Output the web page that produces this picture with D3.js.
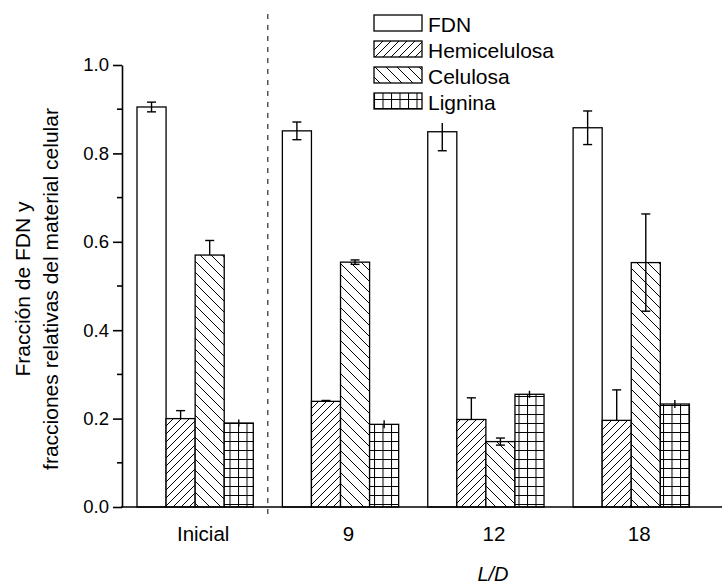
<!DOCTYPE html>
<html>
<head>
<meta charset="utf-8">
<script src="https://cdn.jsdelivr.net/npm/d3@7"></script>
<style>
  body { margin: 0; background: #fff; }
  svg { display: block; font-family: "Liberation Sans", Arial, sans-serif; }
</style>
</head>
<body>
<svg id="chart" width="723" height="586"></svg>
<script>
// categories and series
const groups = ["Inicial", "9", "12", "18"];
const series = ["FDN", "Hemicelulosa", "Celulosa", "Lignina"];

// bar heights (fraction)
const fdn = [0.905, 0.851, 0.849, 0.858];
const hemicelulosa = [0.200, 0.239, 0.198, 0.196];
const celulosa = [0.570, 0.554, 0.148, 0.553];
const lignina = [0.190, 0.187, 0.255, 0.233];

// error bars
const fdnErr = [0.011, 0.020, 0.043, 0.038];
const hemicelulosaErr = [0.018, 0.002, 0.049, 0.069];
const celulosaErr = [0.033, 0.005, 0.008, 0.110];
const ligninaErr = [0.008, 0.009, 0.008, 0.009];

// y ticks
const yTicks = [0.0, 0.2, 0.4, 0.6, 0.8, 1.0];
const yMinorTicks = [0.1, 0.3, 0.5, 0.7, 0.9];

const values = { FDN: fdn, Hemicelulosa: hemicelulosa, Celulosa: celulosa, Lignina: lignina };
const errors = { FDN: fdnErr, Hemicelulosa: hemicelulosaErr, Celulosa: celulosaErr, Lignina: ligninaErr };
// which error bars show their lower half (the rest is hidden behind the bar)
const lowerShown = { FDN: [1, 1, 1, 1], Hemicelulosa: [0, 0, 0, 0], Celulosa: [0, 1, 1, 1], Lignina: [1, 1, 1, 1] };
const capWidth = { FDN: 9, Hemicelulosa: 9, Celulosa: 9, Lignina: 0 };
const fills = { FDN: "#fff", Hemicelulosa: "url(#hatchUp)", Celulosa: "url(#hatchDown)", Lignina: "url(#grid)" };

const svg = d3.select("#chart");

// ---- patterns ----
let defs = svg.append("defs");
let p1 = defs.append("pattern").attr("id", "hatchUp")
  .attr("patternUnits", "userSpaceOnUse").attr("width", 8).attr("height", 8);
p1.append("rect").attr("width", 8).attr("height", 8).attr("fill", "#fff");
p1.append("path").attr("d", "M-2,2 L2,-2 M0,8 L8,0 M6,10 L10,6")
  .attr("stroke", "#000").attr("stroke-width", 1);

let p2 = defs.append("pattern").attr("id", "hatchDown")
  .attr("patternUnits", "userSpaceOnUse").attr("width", 11).attr("height", 11);
p2.append("rect").attr("width", 11).attr("height", 11).attr("fill", "#fff");
p2.append("path").attr("d", "M-2,9 L2,13 M0,0 L11,11 M9,-2 L13,2")
  .attr("stroke", "#000").attr("stroke-width", 1);

let p3 = defs.append("pattern").attr("id", "grid")
  .attr("patternUnits", "userSpaceOnUse").attr("width", 8.5).attr("height", 9);
p3.append("rect").attr("width", 8.5).attr("height", 9).attr("fill", "#fff");
p3.append("path").attr("d", "M0.5,0 V9 M0,0.5 H8.5")
  .attr("stroke", "#000").attr("stroke-width", 1);

// ---- scales ----
let y = d3.scaleLinear().domain([0, 1]).range([507, 65]);

let x0 = d3.scaleBand()
  .domain(groups)
  .range([137, 689.4])
  .paddingInner(0.2)
  .paddingOuter(0);

let x1 = d3.scaleBand()
  .domain(series)
  .range([0, x0.bandwidth()]);

// ---- bars ----
let barData = [];
groups.forEach((g, i) => {
  series.forEach(s => {
    barData.push({ g: g, s: s, v: values[s][i], e: errors[s][i], low: lowerShown[s][i] });
  });
});

let barG = svg.append("g").attr("class", "bars");
barG.selectAll("rect")
  .data(barData)
  .join("rect")
  .attr("x", d => x0(d.g) + x1(d.s))
  .attr("y", d => y(d.v))
  .attr("width", x1.bandwidth())
  .attr("height", d => y(0) - y(d.v))
  .attr("fill", d => fills[d.s])
  .attr("stroke", "#000")
  .attr("stroke-width", 1.3);

// error bars
let errG = svg.append("g").attr("stroke", "#000").attr("stroke-width", 1.4).attr("fill", "none");
barData.forEach(d => {
  let cx = x0(d.g) + x1(d.s) + x1.bandwidth() / 2;
  let hw = capWidth[d.s] / 2;
  let lo = d.low ? d.v - d.e : d.v;
  errG.append("line")
    .attr("x1", cx).attr("x2", cx)
    .attr("y1", y(d.v + d.e)).attr("y2", y(lo));
  if (hw > 0) {
    errG.append("line")
      .attr("x1", cx - hw).attr("x2", cx + hw)
      .attr("y1", y(d.v + d.e)).attr("y2", y(d.v + d.e));
    if (d.low) {
      errG.append("line")
        .attr("x1", cx - hw).attr("x2", cx + hw)
        .attr("y1", y(d.v - d.e)).attr("y2", y(d.v - d.e));
    }
  }
});

// ---- separator (dashed) ----
let sepX = (x0("Inicial") + x0.bandwidth() + x0("9")) / 2;
svg.append("line")
  .attr("x1", sepX).attr("x2", sepX)
  .attr("y1", 14).attr("y2", 516)
  .attr("stroke", "#000")
  .attr("stroke-width", 1)
  .attr("stroke-dasharray", "5,6");

// ---- axes ----
let yAxis = d3.axisLeft(y)
  .tickValues(yTicks)
  .tickFormat(d3.format(".1f"))
  .tickSize(9)
  .tickSizeOuter(0)
  .tickPadding(4);

let gy = svg.append("g").attr("transform", "translate(122,0)").call(yAxis);
gy.select(".domain").attr("stroke-width", 1.6);
gy.selectAll(".tick line").attr("stroke-width", 1.6);
gy.selectAll(".tick text")
  .attr("font-size", 18.5)
  .attr("fill", "#000")
  .attr("font-family", "Liberation Sans, Arial, sans-serif");

let gyMinor = svg.append("g").attr("transform", "translate(122,0)");
gyMinor.selectAll("line")
  .data(yMinorTicks)
  .join("line")
  .attr("x1", -5).attr("x2", 0)
  .attr("y1", d => y(d)).attr("y2", d => y(d))
  .attr("stroke", "#000")
  .attr("stroke-width", 1.6);

// x axis baseline
svg.append("line")
  .attr("x1", 121).attr("x2", 722)
  .attr("y1", y(0)).attr("y2", y(0))
  .attr("stroke", "#000")
  .attr("stroke-width", 1.6);

let xAxis = d3.axisBottom(x0).tickSize(0).tickPadding(19);
let gx = svg.append("g").attr("transform", `translate(0,${y(0)})`).call(xAxis);
gx.select(".domain").remove();
gx.selectAll(".tick text")
  .attr("dx", 8)
  .attr("font-size", 20.5)
  .attr("fill", "#000")
  .attr("font-family", "Liberation Sans, Arial, sans-serif");

// axis titles
svg.append("text")
  .attr("x", 493)
  .attr("y", 581)
  .attr("text-anchor", "middle")
  .attr("font-size", 20)
  .attr("font-style", "italic")
  .text("L/D");

let yTitle = svg.append("g").attr("transform", "translate(0,289) rotate(-90)");
yTitle.append("text")
  .attr("x", 0).attr("y", 30)
  .attr("text-anchor", "middle")
  .attr("font-size", 21)
  .text("Fracción de FDN y");
yTitle.append("text")
  .attr("x", 0).attr("y", 58)
  .attr("text-anchor", "middle")
  .attr("font-size", 21)
  .text("fracciones relativas del material celular");

// ---- legend (white background hides what is under it) ----
let legend = svg.append("g").attr("class", "legend");
legend.append("rect")
  .attr("x", 368).attr("y", 6)
  .attr("width", 200).attr("height", 117)
  .attr("fill", "#fff");

series.forEach((s, i) => {
  let base = 32 + i * 26;
  legend.append("rect")
    .attr("x", 374).attr("y", base - 17)
    .attr("width", 48).attr("height", 16)
    .attr("fill", fills[s])
    .attr("stroke", "#000")
    .attr("stroke-width", 1.3);
  legend.append("text")
    .attr("x", 428).attr("y", base)
    .attr("font-size", 21)
    .text(s);
});
</script>
</body>
</html>
